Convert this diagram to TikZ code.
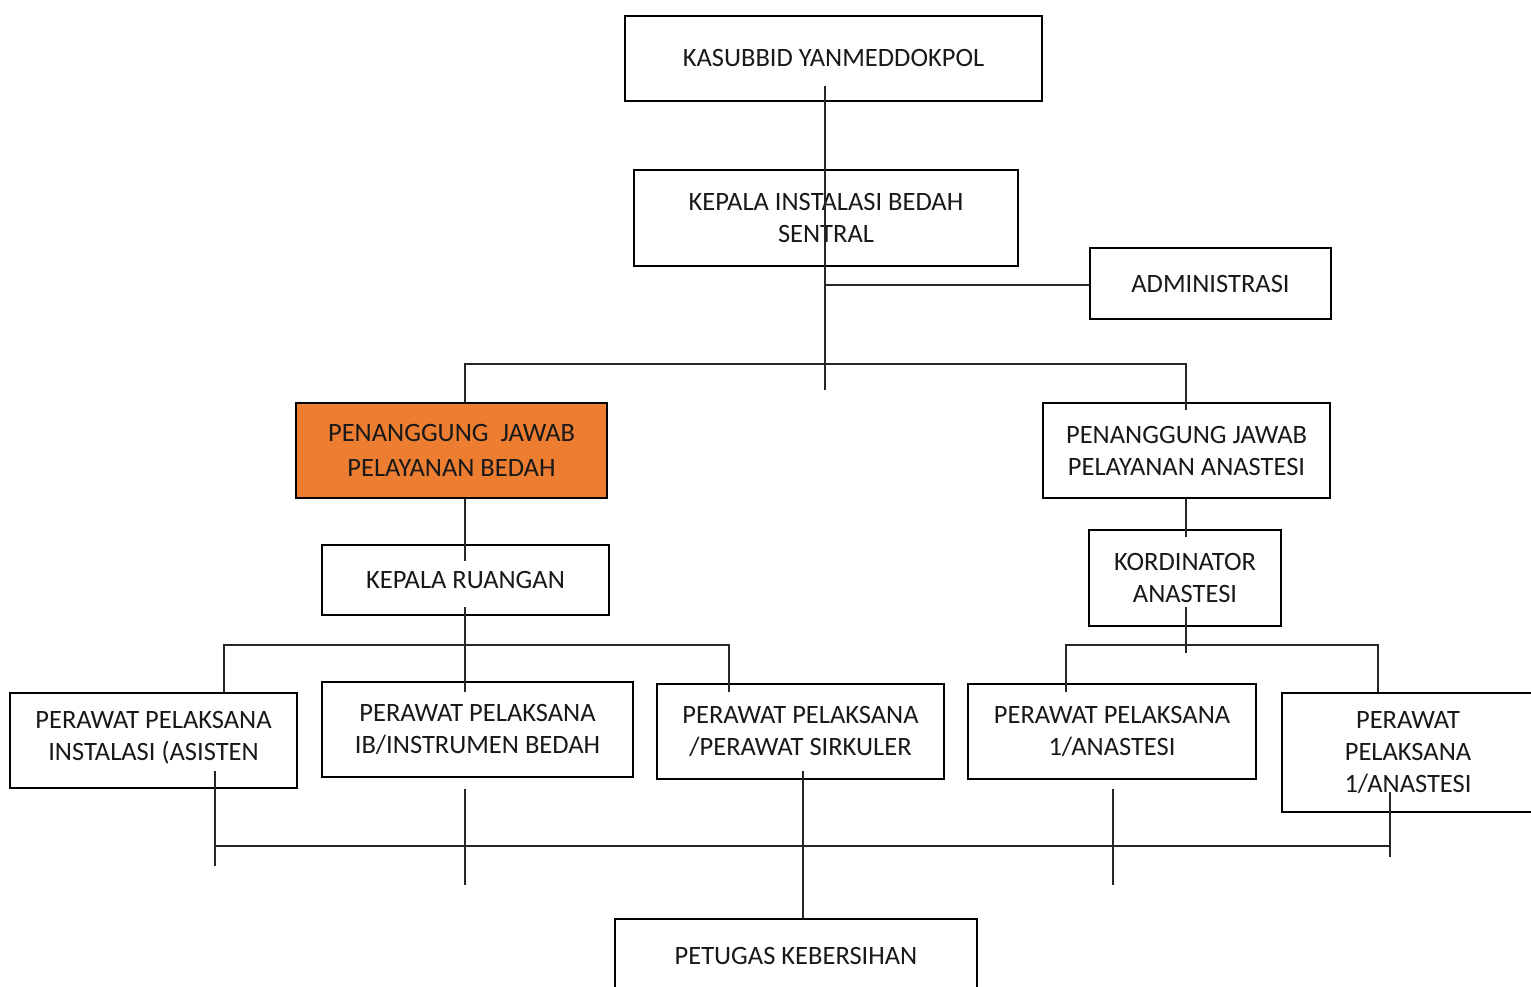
\documentclass[tikz,border=0pt]{standalone}
\usepackage{fontspec}
\setmainfont{Carlito}
\definecolor{office}{HTML}{ED7D31}
\tikzset{
  box/.style={draw=black, line width=2.6pt, inner sep=0pt, align=center,
    font=\fontsize{26.5}{32}\selectfont, text=black!90},
  conn/.style={draw=black!85, line width=1.3pt},
}
\begin{document}
\begin{tikzpicture}[x=1pt,y=-1pt]
\useasboundingbox (0,0) rectangle (1531,987);
\clip (0,0) rectangle (1531,987);
\fill[white] (0,0) rectangle (1531,987);
% boxes
\node[box, minimum width=417pt, minimum height=85pt] (k1) at (833.5,58.5) {KASUBBID YANMEDDOKPOL};
\node[box, minimum width=384pt, minimum height=96pt] (k2) at (826,218) {KEPALA INSTALASI BEDAH\\SENTRAL};
\node[box, minimum width=241pt, minimum height=71pt] (adm) at (1210.5,283.5) {ADMINISTRASI};
\node[box, fill=office, minimum width=311pt, minimum height=95pt] (pjb) at (451.5,450.5) {PENANGGUNG\ \ JAWAB\\[3pt]PELAYANAN BEDAH};
\node[box, minimum width=287pt, minimum height=95pt] (pja) at (1186.5,450.5) {PENANGGUNG JAWAB\\PELAYANAN ANASTESI};
\node[box, minimum width=287pt, minimum height=70pt] (kr) at (465.5,580) {KEPALA RUANGAN};
\node[box, minimum width=192pt, minimum height=96pt] (ka) at (1185,578) {KORDINATOR\\ANASTESI};
\node[box, minimum width=287pt, minimum height=95pt] (p1) at (153.5,740.5) {};
\node (p1t) at (153.5,737.5) [align=center, font=\fontsize{26.5}{32}\selectfont, text=black!90, inner sep=0pt] {PERAWAT PELAKSANA\\INSTALASI (ASISTEN};
\node[box, minimum width=311pt, minimum height=95pt] (p2) at (477.5,729.5) {PERAWAT PELAKSANA\\IB/INSTRUMEN BEDAH};
\node[box, minimum width=287pt, minimum height=95pt] (p3) at (800.5,731.5) {PERAWAT PELAKSANA\\/PERAWAT SIRKULER};
\node[box, minimum width=288pt, minimum height=95pt] (p4) at (1112,731.5) {PERAWAT PELAKSANA\\1/ANASTESI};
\node[box, minimum width=252pt, minimum height=119pt] (p5) at (1408,752.5) {PERAWAT\\PELAKSANA\\1/ANASTESI};
\node[box, minimum width=362pt, minimum height=74pt] (pk) at (796,956) {PETUGAS KEBERSIHAN};
% junction coordinates
\coordinate (a0) at (825,86);
\coordinate (a1) at (825,390);
\coordinate (a2) at (825,285);
\coordinate (b0) at (465,364);
\coordinate (b1) at (1186,364);
\coordinate (b2) at (1186,410);
\coordinate (c0) at (465,561);
\coordinate (c1) at (465,607);
\coordinate (c2) at (465,692);
\coordinate (d0) at (224,645);
\coordinate (d1) at (729,645);
\coordinate (d2) at (729,692);
\coordinate (e0) at (1186,537);
\coordinate (e1) at (1186,607);
\coordinate (e2) at (1186,653);
\coordinate (f0) at (1066,645);
\coordinate (f1) at (1378,645);
\coordinate (f2) at (1066,692);
\coordinate (g0) at (215,771);
\coordinate (g1) at (215,866);
\coordinate (h0) at (465,789);
\coordinate (h1) at (465,885);
\coordinate (i0) at (803,771);
\coordinate (j0) at (1113,789);
\coordinate (j1) at (1113,885);
\coordinate (m0) at (1390,792);
\coordinate (m1) at (1390,857);
\coordinate (n0) at (215,846);
\coordinate (n1) at (1390,846);
% connectors
\draw[conn] (a0) -- (a1);
\draw[conn] (a2) -- (a2 -| adm.west);
\draw[conn] (b0 |- pjb.north) -- (b0) -- (b1) -- (b2);
\draw[conn] (b0 |- pjb.south) -- (c0);
\draw[conn] (c1) -- (c2);
\draw[conn] (d0 |- p1.north) -- (d0) -- (d1) -- (d2);
\draw[conn] (b1 |- pja.south) -- (e0);
\draw[conn] (e1) -- (e2);
\draw[conn] (f2) -- (f0) -- (f1) -- (f1 |- p5.north);
\draw[conn] (g0) -- (g1);
\draw[conn] (h0) -- (h1);
\draw[conn] (i0) -- (i0 |- pk.north);
\draw[conn] (j0) -- (j1);
\draw[conn] (m0) -- (m1);
\draw[conn] (n0) -- (n1);
\end{tikzpicture}
\end{document}
